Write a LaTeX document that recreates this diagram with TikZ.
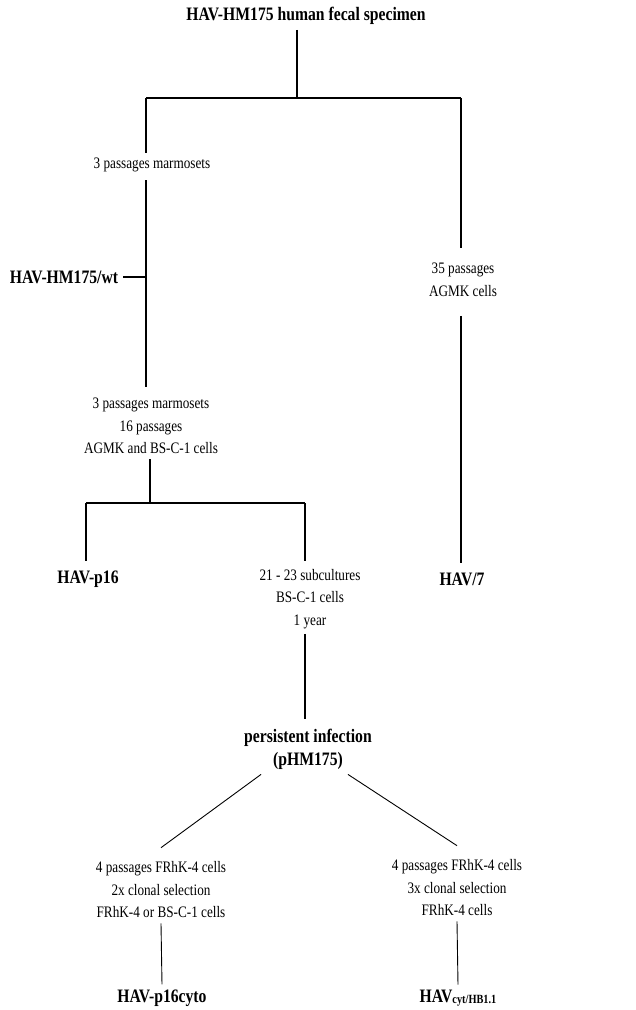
\documentclass[tikz,border=0pt]{standalone}
\usepackage{fontspec}
\setmainfont[FakeStretch=0.825]{Liberation Serif}

\tikzset{
  stage/.style={font=\fontsize{16}{22.5}\selectfont, align=center, inner sep=5pt},
  strain/.style={font=\fontsize{19}{23}\selectfont\bfseries, align=center, inner sep=5pt},
  branch/.style={line width=1.3pt},
  twig/.style={line width=0.9pt},
}

\begin{document}
\begin{tikzpicture}[x=1pt,y=-1pt]
  \useasboundingbox (0,0) rectangle (636,1010);

  % --- source specimen and first split ---
  \node[strain] (spec) at (306,16) {HAV-HM175 human fecal specimen};
  \coordinate (split) at (297,98);
  \coordinate (splitL) at (146,98);
  \coordinate (splitR) at (461,98);
  \draw[branch] (spec.south -| split) -- (split);
  \draw[branch] (splitL) -- (splitR);

  % --- left branch: marmosets ---
  \node[stage] (marmo) at (152,165) {3 passages marmosets};
  \node[strain] (wt) at (64,277) {HAV-HM175/wt};
  \node[stage] (cult) at (151,426) {3 passages marmosets\\16 passages\\AGMK and BS-C-1 cells};
  \draw[branch] (splitL) -- (splitL |- marmo.north);
  \draw[branch,shorten <=3pt,shorten >=6pt] (marmo.south -| splitL) -- (cult.north -| splitL);
  \draw[branch] (wt.east) -- (wt.east -| splitL);

  % --- right branch: AGMK cells ---
  \node[stage] (agmk) at (463,280) {35 passages\\AGMK cells};
  \node[strain] (hav7) at (462,579) {HAV/7};
  \draw[branch,shorten >=10pt] (splitR) -- (splitR |- agmk.north);
  \draw[branch,shorten <=14pt,shorten >=4pt] (agmk.south -| splitR) -- (hav7.north -| splitR);

  % --- second split ---
  \coordinate (fork) at (150,503);
  \coordinate (forkL) at (86,503);
  \coordinate (forkR) at (305,503);
  \draw[branch] (cult.south -| fork) -- (fork);
  \draw[branch] (forkL) -- (forkR);
  \node[strain] (p16) at (88,579) {HAV-p16};
  \node[stage] (sub) at (310,599) {21 - 23 subcultures\\BS-C-1 cells\\1 year};
  \draw[branch,shorten >=4pt] (forkL) -- (forkL |- p16.north);
  \draw[branch,shorten >=3pt] (forkR) -- (forkR |- sub.north);

  % --- persistent infection ---
  \node[strain] (pers) at (308,749) {persistent infection\\(pHM175)};
  \draw[branch,shorten >=5pt] (sub.south -| forkR) -- (pers.north -| forkR);

  % --- clonal selections ---
  \node[stage] (clone2) at (161,890) {4 passages FRhK-4 cells\\2x clonal selection\\FRhK-4 or BS-C-1 cells};
  \node[stage] (clone3) at (457,888) {4 passages FRhK-4 cells\\3x clonal selection\\FRhK-4 cells};
  \draw[twig] ([xshift=22pt]pers.south west) -- ([yshift=9pt]clone2.north);
  \draw[twig] ([xshift=-29pt]pers.south east) -- ([yshift=9pt]clone3.north);

  \node[strain] (cyto) at (162,998) {HAV-p16cyto};
  \node[strain] (hb) at (458,998) {HAV{\fontsize{12.5}{12.5}\selectfont\raisebox{-1pt}{cyt/HB1.1}}};
  \draw[twig] (clone2.south) -- (cyto.north);
  \draw[twig] (clone3.south) -- (hb.north);
\end{tikzpicture}
\end{document}
